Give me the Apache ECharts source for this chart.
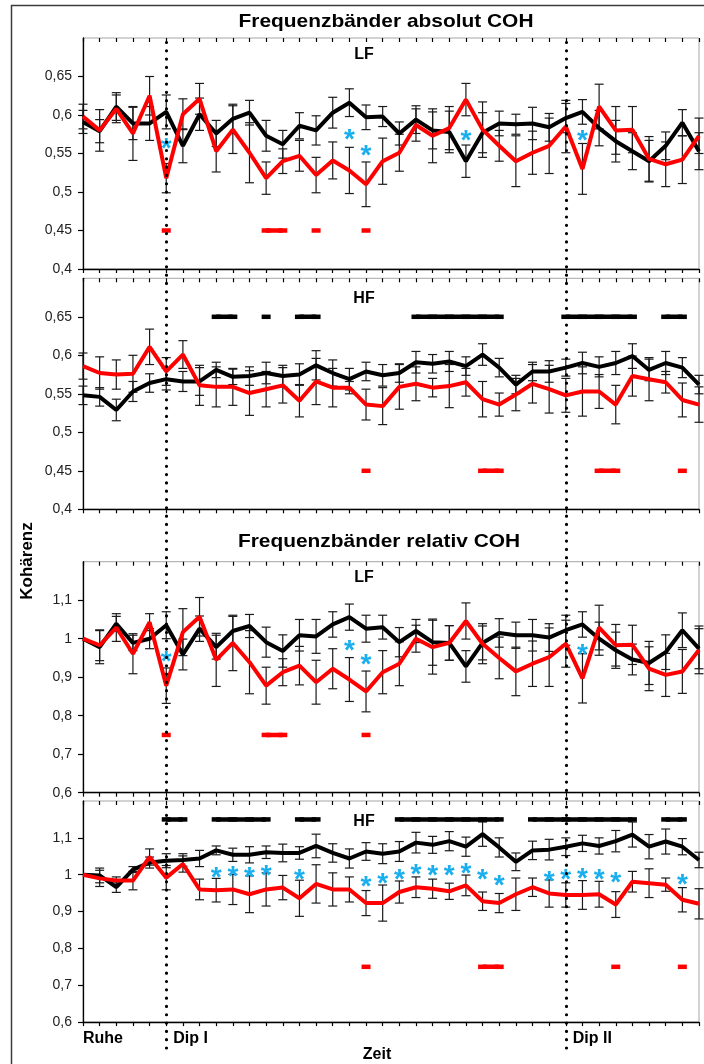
<!DOCTYPE html>
<html>
<head>
<meta charset="utf-8">
<script src="https://cdn.jsdelivr.net/npm/echarts@6/dist/echarts.min.js"></script>
<style>
html, body { margin: 0; padding: 0; background: #fff; }
#chart { width: 704px; height: 1064px; }
</style>
</head>
<body>
<div id="chart"></div>
<script>
// time steps (38 measurements), phase labels on the time axis
var steps = Array.from({length: 38}, function (_, i) { return String(i + 1); });
var phaseLabels = ['Ruhe', 'Dip I', 'Dip II'];
var phaseIndex = [0, 5, 29];

// Frequenzbaender absolut COH - LF
var absLfBlack = [0.591,0.579,0.611,0.589,0.589,0.604,0.560,0.601,0.576,0.595,0.603,0.573,0.562,0.586,0.580,0.603,0.616,0.597,0.598,0.576,0.594,0.580,0.578,0.540,0.577,0.589,0.588,0.589,0.584,0.596,0.604,0.583,0.566,0.553,0.540,0.560,0.590,0.553];
var absLfBlackErr = [0.015,0.015,0.018,0.021,0.022,0.022,0.022,0.021,0.017,0.019,0.016,0.020,0.018,0.017,0.019,0.020,0.018,0.016,0.013,0.015,0.018,0.024,0.027,0.021,0.026,0.016,0.013,0.021,0.018,0.019,0.016,0.023,0.027,0.024,0.027,0.018,0.017,0.024];
var absLfRed = [0.598,0.580,0.608,0.576,0.625,0.518,0.601,0.621,0.553,0.581,0.551,0.518,0.540,0.547,0.522,0.541,0.528,0.510,0.540,0.551,0.587,0.573,0.583,0.620,0.581,0.560,0.540,0.551,0.560,0.585,0.530,0.611,0.580,0.581,0.543,0.536,0.542,0.573];
var absLfRedErr = [0.016,0.027,0.018,0.035,0.025,0.019,0.020,0.020,0.027,0.031,0.039,0.021,0.016,0.020,0.023,0.024,0.030,0.029,0.030,0.024,0.021,0.035,0.028,0.021,0.036,0.020,0.033,0.028,0.036,0.034,0.033,0.029,0.031,0.030,0.029,0.029,0.031,0.023];
var absLfStars = [[5,0.564],[16,0.576],[17,0.556],[23,0.575],[30,0.575]];
var absLfRedSig = [5, 11, 12, 14, 17];
var absLfBlackSig = [];

// Frequenzbaender absolut COH - HF
var absHfBlack = [0.548,0.546,0.529,0.553,0.564,0.569,0.566,0.566,0.581,0.572,0.573,0.577,0.573,0.575,0.587,0.577,0.569,0.579,0.574,0.577,0.591,0.589,0.592,0.586,0.601,0.584,0.562,0.579,0.579,0.584,0.590,0.585,0.590,0.599,0.581,0.590,0.584,0.562];
var absHfBlackErr = [0.012,0.012,0.014,0.013,0.012,0.014,0.013,0.018,0.010,0.010,0.012,0.014,0.014,0.014,0.019,0.017,0.014,0.012,0.014,0.012,0.014,0.012,0.013,0.012,0.014,0.012,0.012,0.012,0.014,0.011,0.014,0.013,0.015,0.016,0.014,0.015,0.013,0.012];
var absHfRed = [0.586,0.577,0.575,0.576,0.611,0.579,0.601,0.561,0.559,0.559,0.551,0.556,0.561,0.541,0.566,0.558,0.558,0.536,0.534,0.559,0.563,0.558,0.560,0.565,0.543,0.536,0.549,0.563,0.556,0.548,0.553,0.553,0.536,0.573,0.569,0.565,0.542,0.536];
var absHfRedErr = [0.017,0.021,0.019,0.024,0.023,0.018,0.018,0.026,0.026,0.024,0.029,0.023,0.023,0.021,0.030,0.025,0.008,0.020,0.024,0.029,0.022,0.012,0.028,0.018,0.023,0.015,0.021,0.025,0.031,0.022,0.032,0.022,0.025,0.026,0.028,0.014,0.022,0.023];
var absHfStars = [];
var absHfRedSig = [17, 24, 25, 31, 32, 36];
var absHfBlackSig = [8, 9, 11, 13, 14, 20, 21, 22, 23, 24, 25, 29, 30, 31, 32, 33, 35, 36];

// Frequenzbaender relativ COH - LF
var relLfBlack = [1.000,0.978,1.039,0.989,1.000,1.035,0.959,1.026,0.978,1.020,1.033,0.991,0.968,1.009,1.006,1.037,1.056,1.026,1.030,0.991,1.020,0.991,0.989,0.928,0.989,1.015,1.009,1.009,1.003,1.022,1.037,1.000,0.970,0.946,0.937,0.965,1.022,0.974];
var relLfBlackErr = [0,0.043,0.019,0.020,0.026,0.035,0.040,0.033,0.031,0.038,0.030,0.039,0.042,0.041,0.044,0.033,0.034,0.035,0.031,0.038,0.030,0.060,0.045,0.041,0.044,0.037,0.034,0.041,0.036,0.039,0.033,0.043,0.047,0.040,0.056,0.045,0.045,0.052];
var relLfRed = [1.000,0.983,1.029,0.961,1.043,0.878,1.017,1.057,0.945,0.989,0.939,0.878,0.913,0.930,0.887,0.922,0.894,0.863,0.913,0.935,1.000,0.978,0.989,1.046,0.987,0.950,0.915,0.935,0.952,0.987,0.897,1.029,0.983,0.984,0.922,0.906,0.915,0.971];
var relLfRedErr = [0,0.040,0.036,0.052,0.022,0.046,0.061,0.050,0.069,0.072,0.082,0.048,0.035,0.050,0.057,0.052,0.057,0.053,0.056,0.057,0.035,0.070,0.045,0.047,0.052,0.054,0.063,0.059,0.076,0.061,0.064,0.058,0.054,0.051,0.057,0.056,0.057,0.062];
var relLfStars = [[5,0.957],[16,0.985],[17,0.948],[30,0.974]];
var relLfRedSig = [5, 11, 12, 17];
var relLfBlackSig = [];

// Frequenzbaender relativ COH - HF
var relHfBlack = [1.000,0.998,0.966,1.014,1.033,1.038,1.040,1.044,1.066,1.054,1.054,1.061,1.059,1.059,1.078,1.059,1.044,1.063,1.057,1.063,1.087,1.081,1.091,1.076,1.110,1.074,1.035,1.066,1.068,1.076,1.085,1.078,1.091,1.109,1.076,1.090,1.076,1.040];
var relHfBlackErr = [0,0.020,0.014,0.008,0.015,0.019,0.017,0.022,0.012,0.018,0.022,0.017,0.024,0.017,0.032,0.025,0.026,0.024,0.027,0.027,0.028,0.023,0.026,0.026,0.033,0.026,0.024,0.025,0.028,0.024,0.022,0.022,0.029,0.034,0.033,0.034,0.022,0.021];
var relHfRed = [1.000,0.990,0.984,0.984,1.048,0.992,1.029,0.960,0.958,0.960,0.947,0.960,0.965,0.936,0.975,0.960,0.960,0.923,0.923,0.953,0.966,0.962,0.955,0.971,0.928,0.923,0.947,0.966,0.949,0.945,0.945,0.947,0.919,0.981,0.977,0.973,0.932,0.921];
var relHfRedErr = [0,0.022,0.010,0.025,0.022,0.033,0.022,0.028,0.032,0.041,0.050,0.045,0.033,0.049,0.052,0.045,0.034,0.034,0.049,0.030,0.028,0.026,0.022,0.028,0.025,0.026,0.044,0.025,0.037,0.033,0.039,0.035,0.035,0.028,0.039,0.018,0.033,0.041];
var relHfStars = [[8,1.009],[9,1.012],[10,1.009],[11,1.016],[13,1.003],[17,0.986],[18,0.992],[19,1.003],[20,1.018],[21,1.014],[22,1.014],[23,1.020],[24,1.003],[25,0.988],[28,0.998],[29,1.003],[30,1.007],[31,1.003],[32,0.997],[36,0.990]];
var relHfRedSig = [17, 24, 25, 32, 36];
var relHfBlackSig = [5, 6, 8, 9, 10, 11, 13, 14, 19, 20, 21, 22, 23, 24, 25, 27, 28, 29, 30, 31, 32, 33, 35, 36];

var FONT = '"Liberation Sans", Arial, sans-serif';
var RED = '#ff0000';
var BLUE = '#19aeee';

var panels = [
  {top: 38,    min: 0.4, max: 0.7, step: 0.05, black: absLfBlack, blackErr: absLfBlackErr, red: absLfRed, redErr: absLfRedErr, stars: absLfStars, redSig: absLfRedSig, redLevel: 0.45, blackSig: absLfBlackSig, blackLevel: 0.65},
  {top: 278.3, min: 0.4, max: 0.7, step: 0.05, black: absHfBlack, blackErr: absHfBlackErr, red: absHfRed, redErr: absHfRedErr, stars: absHfStars, redSig: absHfRedSig, redLevel: 0.45, blackSig: absHfBlackSig, blackLevel: 0.65},
  {top: 561.7, min: 0.6, max: 1.2, step: 0.1,  black: relLfBlack, blackErr: relLfBlackErr, red: relLfRed, redErr: relLfRedErr, stars: relLfStars, redSig: relLfRedSig, redLevel: 0.75, blackSig: relLfBlackSig, blackLevel: 1.15},
  {top: 801,   min: 0.6, max: 1.2, step: 0.1,  black: relHfBlack, blackErr: relHfBlackErr, red: relHfRed, redErr: relHfRedErr, stars: relHfStars, redSig: relHfRedSig, redLevel: 0.75, blackSig: relHfBlackSig, blackLevel: 1.15}
];
var PLOT_H = 231;
var LEFT = 83, RIGHT = 5;

function errorBar(params, api) {
  var e = api.value(2);
  if (!e) return;
  var i = api.value(0), v = api.value(1);
  var a = api.coord([i, v + e]), b = api.coord([i, v - e]);
  var hw = 4.5, st = {stroke: '#1a1a1a', lineWidth: 1.2};
  return {type: 'group', children: [
    {type: 'line', shape: {x1: a[0], y1: a[1], x2: b[0], y2: b[1]}, style: st},
    {type: 'line', shape: {x1: a[0] - hw, y1: a[1], x2: a[0] + hw, y2: a[1]}, style: st},
    {type: 'line', shape: {x1: b[0] - hw, y1: b[1], x2: b[0] + hw, y2: b[1]}, style: st}
  ]};
}

function star(params, api) {
  var p = api.coord([api.value(0), api.value(1)]);
  return {type: 'text', x: p[0], y: p[1] + 7, style: {
    text: '*', fill: BLUE, font: 'bold 28px ' + FONT,
    align: 'center', verticalAlign: 'middle', textAlign: 'center', textVerticalAlign: 'middle'
  }};
}

function sigLine(idx, level) {
  return steps.map(function (_, i) { return idx.indexOf(i) >= 0 ? level : null; });
}

var grid = [], xAxis = [], yAxis = [], series = [];
panels.forEach(function (p, g) {
  var last = g === panels.length - 1;
  grid.push({left: LEFT, right: RIGHT, top: p.top, height: PLOT_H, show: true,
    borderColor: '#a6a6a6', borderWidth: 1, backgroundColor: 'transparent'});
  xAxis.push({type: 'category', gridIndex: g, data: steps, boundaryGap: false,
    axisLine: {lineStyle: {color: '#000', width: 1.3}},
    axisTick: {show: true, length: 4, interval: 0, lineStyle: {color: '#000', width: 1.2}},
    axisLabel: last ? {
      show: true, interval: 0, align: 'left', margin: 8,
      formatter: function (v, idx) {
        var k = phaseIndex.indexOf(idx);
        if (k < 0) return '';
        return (k === 0 ? '{a|' : '{b|') + phaseLabels[k] + '}';
      },
      rich: {
        a: {fontFamily: FONT, fontWeight: 'bold', fontSize: 16, color: '#000'},
        b: {fontFamily: FONT, fontWeight: 'bold', fontSize: 16, color: '#000', padding: [0, 0, 0, 7]}
      }
    } : {show: false},
    name: last ? 'Zeit' : '', nameLocation: 'middle', nameGap: 16,
    nameTextStyle: {fontFamily: FONT, fontWeight: 'bold', fontSize: 16, color: '#000', padding: [0, 28, 0, 0]},
    splitLine: {show: false}
  });
  // inner half of the crossing tick marks
  xAxis.push({type: 'category', gridIndex: g, data: steps, boundaryGap: false,
    axisLine: {show: false}, axisLabel: {show: false},
    axisTick: {show: true, inside: true, length: 4, interval: 0, lineStyle: {color: '#000', width: 1.2}},
    splitLine: {show: false}
  });
  yAxis.push({type: 'value', gridIndex: g, min: p.min, max: p.max, interval: p.step,
    axisLine: {show: true, lineStyle: {color: '#000', width: 1.3}},
    axisTick: {show: true, length: 5, lineStyle: {color: '#000', width: 1.2}},
    splitLine: {show: false},
    axisLabel: {showMaxLabel: false, margin: 11, fontFamily: FONT, fontSize: 14, color: '#222',
      formatter: function (v) { return String(+v.toFixed(2)).replace('.', ','); }}
  });
  var xi = g * 2;
  series.push(
    {type: 'custom', xAxisIndex: xi, yAxisIndex: g, renderItem: errorBar, encode: {x: 0, y: 1}, z: 1, silent: true,
      data: p.black.map(function (v, i) { return [i, v, p.blackErr[i]]; })},
    {type: 'custom', xAxisIndex: xi, yAxisIndex: g, renderItem: errorBar, encode: {x: 0, y: 1}, z: 1, silent: true,
      data: p.red.map(function (v, i) { return [i, v, p.redErr[i]]; })},
    {type: 'line', xAxisIndex: xi, yAxisIndex: g, data: p.black, symbol: 'none', z: 2,
      lineStyle: {color: '#000', width: 4}},
    {type: 'line', xAxisIndex: xi, yAxisIndex: g, data: p.red, symbol: 'none', z: 3,
      lineStyle: {color: RED, width: 4}},
    {type: 'custom', xAxisIndex: xi, yAxisIndex: g, renderItem: star, encode: {x: 0, y: 1}, z: 4, silent: true,
      data: p.stars},
    {type: 'line', xAxisIndex: xi, yAxisIndex: g, data: sigLine(p.redSig, p.redLevel), z: 3,
      symbol: 'rect', symbolSize: [9, 4.5], showAllSymbol: true, itemStyle: {color: RED},
      lineStyle: {color: RED, width: 4.5}},
    {type: 'line', xAxisIndex: xi, yAxisIndex: g, data: sigLine(p.blackSig, p.blackLevel), z: 3,
      symbol: 'rect', symbolSize: [9, 4.5], showAllSymbol: true, itemStyle: {color: '#000'},
      lineStyle: {color: '#000', width: 4.5}}
  );
});

// overlay grid spanning all panels for the dotted phase markers
grid.push({left: LEFT, right: RIGHT, top: 41, height: 1007});
xAxis.push({type: 'category', gridIndex: 4, data: steps, boundaryGap: false, show: false});
yAxis.push({type: 'value', gridIndex: 4, min: 0, max: 1, show: false});
series.push({type: 'line', xAxisIndex: 8, yAxisIndex: 4, data: [], z: 6,
  markLine: {silent: true, symbol: 'none', label: {show: false},
    lineStyle: {color: '#000', width: 3.2, type: [0.01, 8.3], cap: 'round'},
    data: phaseIndex.slice(1).map(function (i) { return {xAxis: i}; })}
});

var chart = echarts.init(document.getElementById('chart'));
chart.setOption({
  animation: false,
  textStyle: {fontFamily: FONT},
  grid: grid, xAxis: xAxis, yAxis: yAxis, series: series,
  graphic: [
    {type: 'rect', shape: {x: 11.5, y: 5.5, width: 720, height: 1100}, style: {fill: 'none', stroke: '#3c3c3c', lineWidth: 1.5}, z: -1},
    {type: 'text', x: 386, y: 22, scaleX: 1.1, style: {text: 'Frequenzbänder absolut COH', font: 'bold 19px ' + FONT, fill: '#000', textAlign: 'center', textVerticalAlign: 'middle', align: 'center', verticalAlign: 'middle'}},
    {type: 'text', x: 379, y: 542, scaleX: 1.1, style: {text: 'Frequenzbänder relativ COH', font: 'bold 19px ' + FONT, fill: '#000', textAlign: 'center', textVerticalAlign: 'middle', align: 'center', verticalAlign: 'middle'}},
    {type: 'text', x: 364, y: 55, style: {text: 'LF', font: 'bold 16px ' + FONT, fill: '#000', textAlign: 'center', textVerticalAlign: 'middle', align: 'center', verticalAlign: 'middle'}},
    {type: 'text', x: 364, y: 299, style: {text: 'HF', font: 'bold 16px ' + FONT, fill: '#000', textAlign: 'center', textVerticalAlign: 'middle', align: 'center', verticalAlign: 'middle'}},
    {type: 'text', x: 364, y: 578, style: {text: 'LF', font: 'bold 16px ' + FONT, fill: '#000', textAlign: 'center', textVerticalAlign: 'middle', align: 'center', verticalAlign: 'middle'}},
    {type: 'text', x: 364, y: 822, style: {text: 'HF', font: 'bold 16px ' + FONT, fill: '#000', textAlign: 'center', textVerticalAlign: 'middle', align: 'center', verticalAlign: 'middle'}},
    {type: 'text', x: 27, y: 561, rotation: Math.PI / 2, style: {text: 'Kohärenz', font: 'bold 17px ' + FONT, fill: '#000', textAlign: 'center', textVerticalAlign: 'middle', align: 'center', verticalAlign: 'middle'}}
  ]
});
</script>
</body>
</html>
